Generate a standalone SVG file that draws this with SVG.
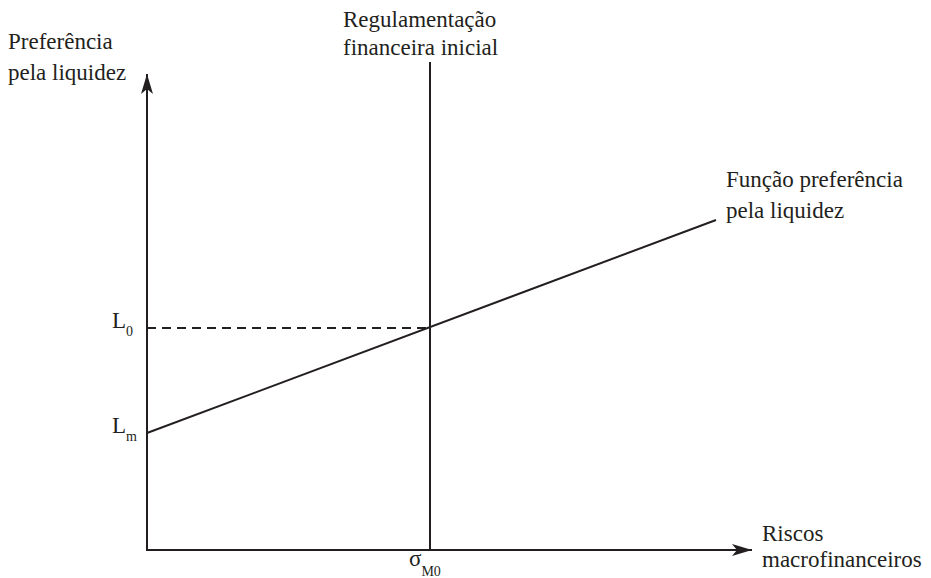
<svg xmlns="http://www.w3.org/2000/svg" width="931" height="578" viewBox="0 0 931 578">
<style>
text{font-family:"Liberation Serif","DejaVu Serif",serif;fill:#231f20;font-size:23px}
.sub{font-size:14px}
.ln{stroke:#231f20;stroke-width:2;fill:none}
</style>
<defs>
<marker id="ah" viewBox="0 0 20 12" refX="20" refY="6" markerWidth="20" markerHeight="12" markerUnits="userSpaceOnUse" orient="auto">
<path d="M0,0 L20,6 L0,12 L5,6 Z" fill="#231f20"/>
</marker>
</defs>
<rect width="931" height="578" fill="#fff"/>
<g id="connectors">
<line class="ln" x1="147" y1="551" x2="147" y2="74" marker-end="url(#ah)"/>
<line class="ln" x1="146" y1="550" x2="752" y2="550" marker-end="url(#ah)"/>
<line class="ln" x1="430" y1="62" x2="430" y2="550"/>
<line class="ln" x1="147" y1="328" x2="430" y2="328" stroke-dasharray="9,6"/>
<line class="ln" x1="147" y1="433" x2="716" y2="220"/>
</g>
<g id="y-axis-label"><text x="8" y="49">Preferência</text><text x="8" y="80">pela liquidez</text></g>
<g id="regulation-label"><text x="343" y="27">Regulamentação</text><text x="343" y="55">financeira inicial</text></g>
<g id="function-label"><text x="726" y="187">Função preferência</text><text x="726" y="218">pela liquidez</text></g>
<g id="x-axis-label"><text x="762" y="541">Riscos</text><text x="762" y="567">macrofinanceiros</text></g>
<g id="L0"><text x="112" y="328">L<tspan class="sub" dy="8">0</tspan></text></g>
<g id="Lm"><text x="112" y="433">L<tspan class="sub" dy="8">m</tspan></text></g>
<g id="sigma"><text x="409" y="566">σ<tspan class="sub" dy="10">M0</tspan></text></g>
</svg>
